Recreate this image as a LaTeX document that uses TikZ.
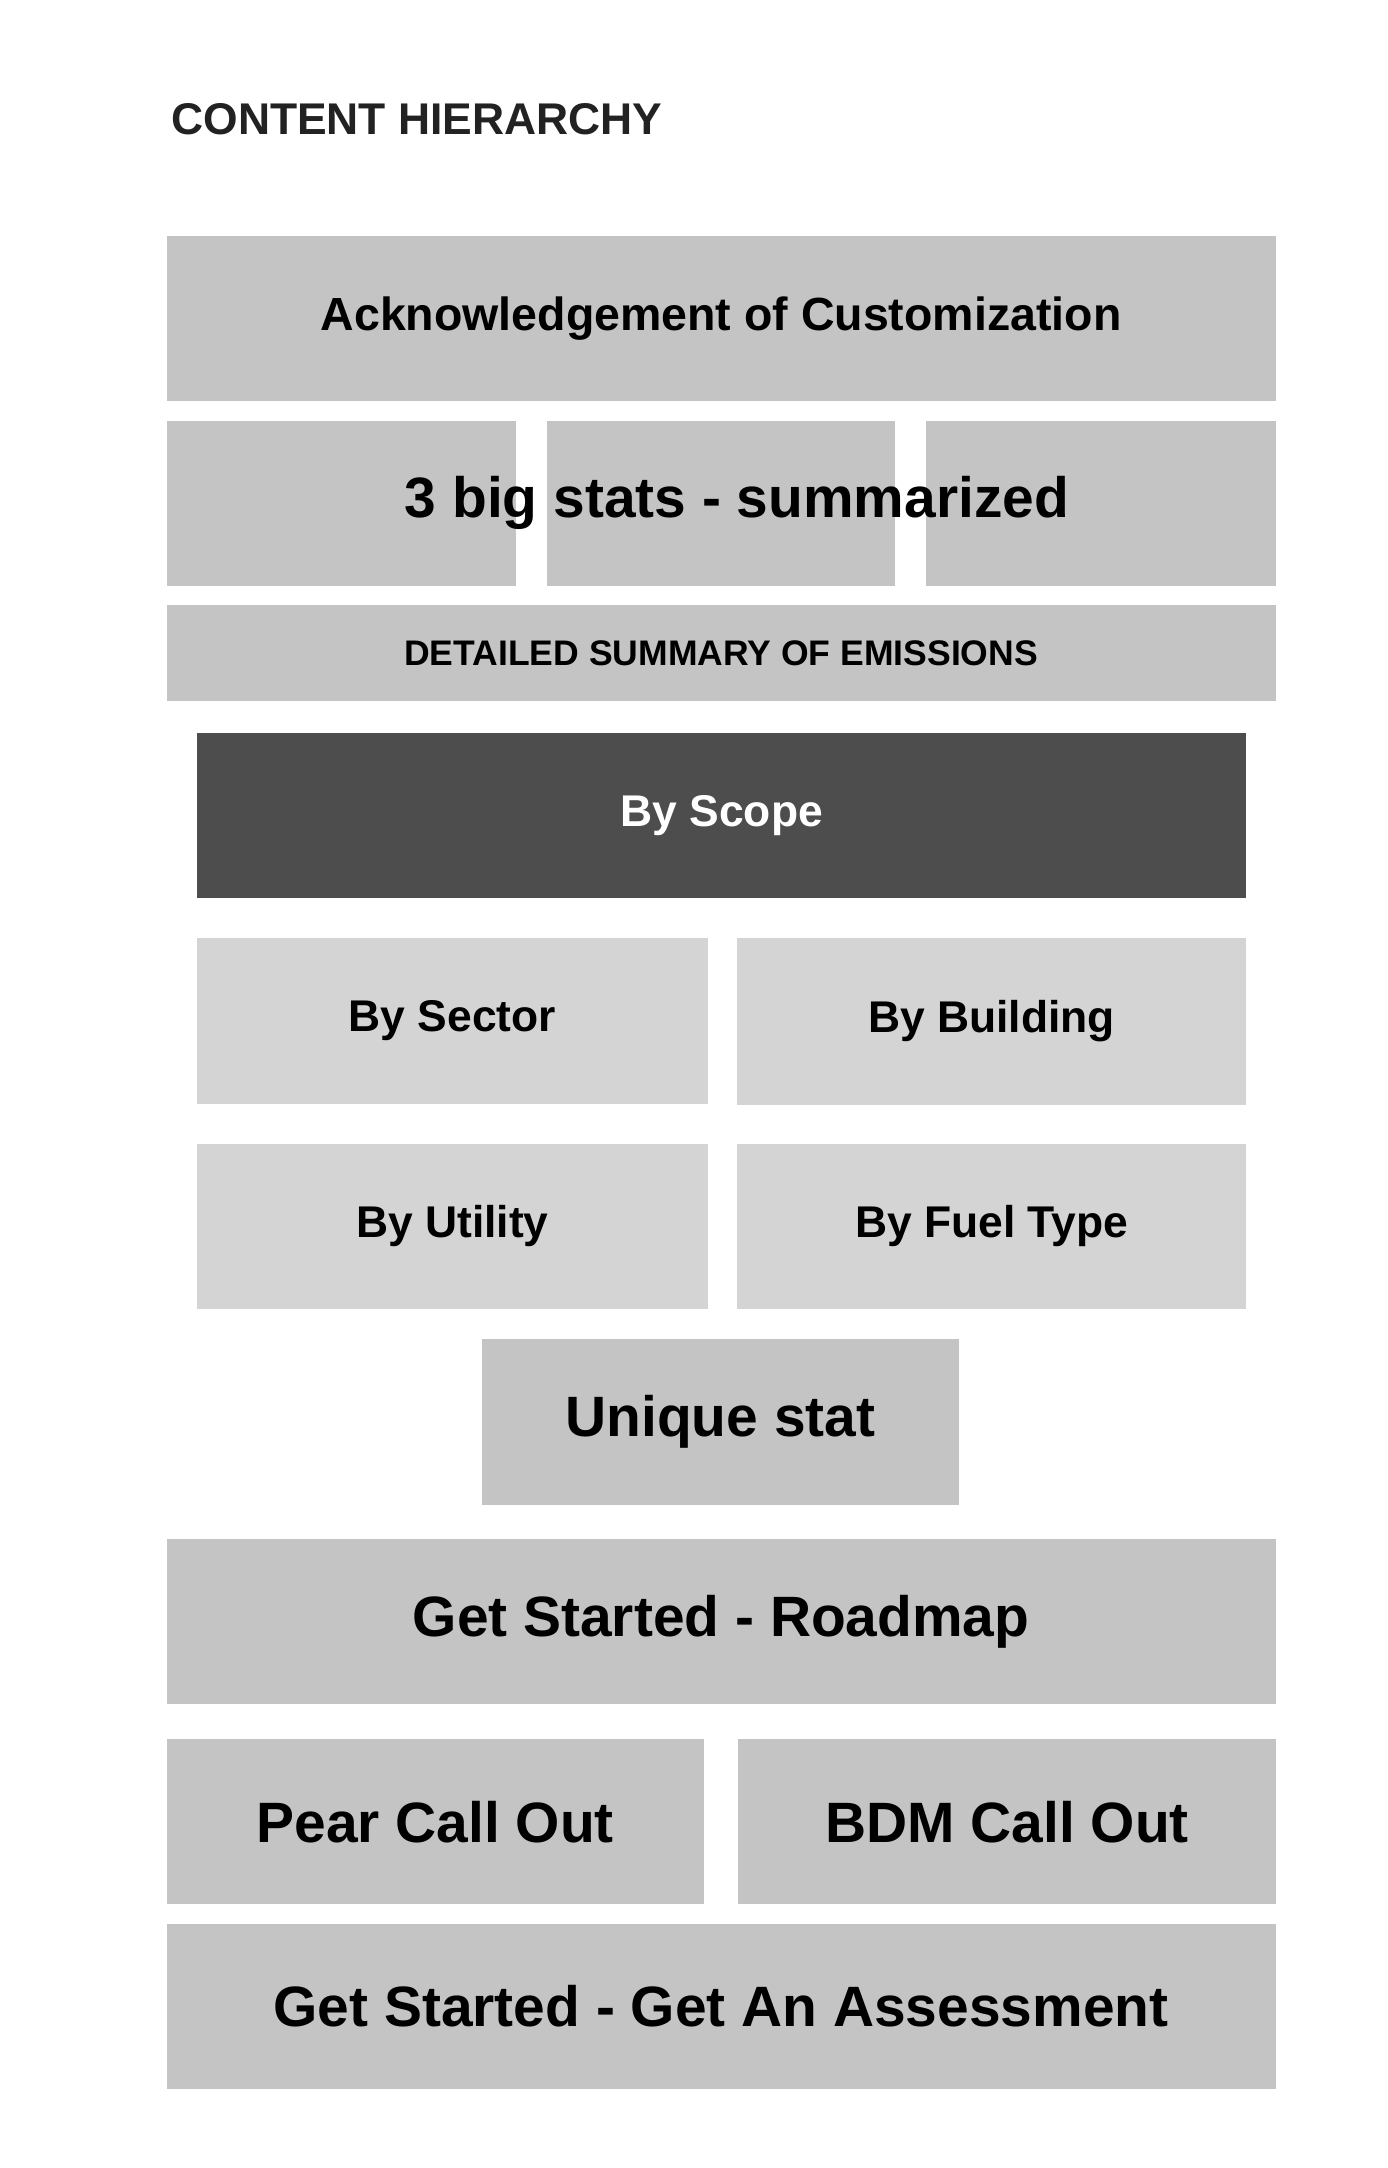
\documentclass[tikz,border=0pt]{standalone}
\usepackage{fontspec}
\setmainfont{Liberation Sans}
\usepackage{xcolor}
\usepackage{tikz}
\definecolor{boxgray}{HTML}{C4C4C4}
\definecolor{lightgray}{HTML}{D4D4D4}
\definecolor{darkgray}{HTML}{4D4D4D}
\definecolor{titlegray}{HTML}{222222}

\begin{document}
\begin{tikzpicture}[x=1pt,y=-1pt,
    block/.style={fill=boxgray,inner sep=0pt},
    subblock/.style={fill=lightgray,inner sep=0pt},
    bigtext/.style={font=\fontsize{41}{41}\selectfont\bfseries},
    midtext/.style={font=\fontsize{32}{32}\selectfont\bfseries},
    smalltext/.style={font=\fontsize{25.6}{26}\selectfont\bfseries}]
    \useasboundingbox (0,0) rectangle (1000,1562);
    \node[anchor=base west,text=titlegray,
      font=\fontsize{32}{32}\selectfont\bfseries] (title) at (120,97) {CONTENT HIERARCHY};
    %
    \node[block,font=\fontsize{33.5}{34}\selectfont\bfseries,
      minimum width=799pt,minimum height=119pt] (ack)
      at (519.5,229.5) {Acknowledgement of Customization};
    \node[block,minimum width=252pt,minimum height=119pt] (statA) at (246,362.5) {};
    \node[block,minimum width=251pt,minimum height=119pt] (statB) at (519.5,362.5) {};
    \node[block,minimum width=252pt,minimum height=119pt] (statC) at (793,362.5) {};
    \node[bigtext] (stats) at (531,362.5) {3 big stats - summarized};
    \node[block,smalltext,minimum width=799pt,minimum height=69pt] (detail)
      at (519.5,470.5) {DETAILED SUMMARY OF EMISSIONS};
    %
    \node[fill=darkgray,text=white,inner sep=0pt,midtext,
      minimum width=756pt,minimum height=119pt] (scope) at (520,587.5) {By Scope};
    \node[subblock,midtext,minimum width=368pt,minimum height=120pt] (sector)
      at (326,735.5) {By Sector};
    \node[subblock,midtext,minimum width=367pt,minimum height=120pt] (building)
      at (714.5,736) {By Building};
    \node[subblock,midtext,minimum width=368pt,minimum height=119pt] (utility)
      at (326,883.5) {By Utility};
    \node[subblock,midtext,minimum width=367pt,minimum height=119pt] (fuel)
      at (714.5,883.5) {By Fuel Type};
    \node[block,bigtext,minimum width=344pt,minimum height=119pt] (unique)
      at (519,1024.5) {Unique stat};
    %
    \node[block,bigtext,minimum width=799pt,minimum height=119pt] (roadmap)
      at (519.5,1168.5) {Get Started - Roadmap};
    \node[block,bigtext,minimum width=387pt,minimum height=119pt] (pear)
      at (313.5,1312.5) {Pear Call Out};
    \node[block,bigtext,minimum width=387pt,minimum height=119pt] (bdm)
      at (725.5,1312.5) {BDM Call Out};
    \node[block,bigtext,minimum width=799pt,minimum height=119pt] (assess)
      at (519.5,1445.5) {Get Started - Get An Assessment};
\end{tikzpicture}
\end{document}
